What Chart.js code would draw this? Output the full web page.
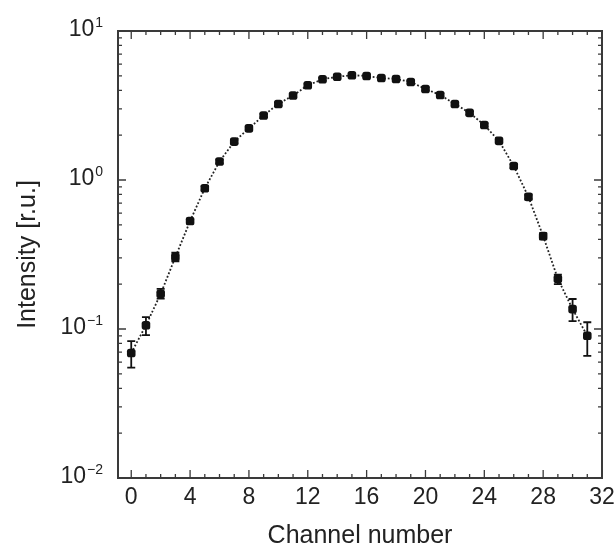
<!DOCTYPE html>
<html>
<head>
<meta charset="utf-8">
<script src="https://cdn.jsdelivr.net/npm/chart.js@4"></script>
<style>
  html, body { margin: 0; padding: 0; background: #fff; }
  #wrap { width: 615px; height: 551px; }
</style>
</head>
<body>
<div id="wrap"><canvas id="chart" width="615" height="551"></canvas></div>
<script>
// channel numbers and measured intensity (relative units)
const channels = [0, 1, 2, 3, 4, 5, 6, 7, 8, 9, 10, 11, 12, 13, 14, 15,
                  16, 17, 18, 19, 20, 21, 22, 23, 24, 25, 26, 27, 28, 29, 30, 31];
const intensity = [0.069, 0.106, 0.172, 0.304, 0.53, 0.88, 1.33, 1.81, 2.22, 2.71, 3.24, 3.69,
                   4.32, 4.74, 4.93, 5.05, 4.99, 4.84, 4.76, 4.55, 4.08, 3.72, 3.24, 2.82,
                   2.34, 1.83, 1.24, 0.77, 0.42, 0.217, 0.136, 0.090];
// error bar ends
const errLow = [0.055, 0.091, 0.160, 0.285, 0.51, 0.85, 1.29, 1.76, 2.16, 2.64, 3.16, 3.60,
                4.22, 4.63, 4.82, 4.94, 4.88, 4.73, 4.65, 4.44, 3.98, 3.63, 3.16, 2.75,
                2.28, 1.78, 1.20, 0.74, 0.40, 0.200, 0.113, 0.066];
const errHigh = [0.083, 0.120, 0.186, 0.325, 0.55, 0.91, 1.37, 1.86, 2.28, 2.78, 3.32, 3.78,
                 4.42, 4.85, 5.04, 5.16, 5.10, 4.95, 4.87, 4.66, 4.18, 3.81, 3.32, 2.89,
                 2.40, 1.88, 1.28, 0.80, 0.44, 0.232, 0.159, 0.111];
const xTicks = [0, 4, 8, 12, 16, 20, 24, 28, 32];
const yDecades = [-2, -1, 0, 1];

const axisColor = '#3a3a3a';
const textColor = '#222';
const fontFamily = 'Arial, "Liberation Sans", sans-serif';

// error bars, drawn with the chart scales
const errorBars = {
    id: 'errorBars',
    afterDatasetsDraw(chart) {
        const { ctx, scales: { x, y } } = chart;
        ctx.save();
        ctx.strokeStyle = '#111';
        ctx.lineWidth = 1.8;
        channels.forEach((c, i) => {
            const px = x.getPixelForValue(c);
            const yl = y.getPixelForValue(errLow[i]);
            const yh = y.getPixelForValue(errHigh[i]);
            ctx.beginPath();
            ctx.moveTo(px, yl); ctx.lineTo(px, yh);
            ctx.moveTo(px - 4, yl); ctx.lineTo(px + 4, yl);
            ctx.moveTo(px - 4, yh); ctx.lineTo(px + 4, yh);
            ctx.stroke();
        });
        ctx.restore();
    }
};

// box, inward ticks and tick labels
const frame = {
    id: 'frame',
    afterDraw(chart) {
        const { ctx, chartArea: a, scales: { x, y } } = chart;
        ctx.save();
        ctx.strokeStyle = axisColor;
        ctx.lineWidth = 2;
        ctx.strokeRect(a.left, a.top, a.right - a.left, a.bottom - a.top);

        ctx.lineWidth = 1.3;
        ctx.beginPath();
        for (let v = 0; v <= 32; v++) {
            const px = x.getPixelForValue(v);
            const len = v % 4 === 0 ? 8 : 4;
            ctx.moveTo(px, a.bottom); ctx.lineTo(px, a.bottom - len);
            ctx.moveTo(px, a.top); ctx.lineTo(px, a.top + len);
        }
        yDecades.forEach(d => {
            for (let m = 1; m <= 9; m++) {
                const v = m * Math.pow(10, d);
                if (v > 10.0001) continue;
                const py = y.getPixelForValue(v);
                const len = m === 1 ? 8 : 4;
                ctx.moveTo(a.left, py); ctx.lineTo(a.left + len, py);
                ctx.moveTo(a.right, py); ctx.lineTo(a.right - len, py);
            }
        });
        ctx.stroke();

        ctx.fillStyle = textColor;
        ctx.textBaseline = 'middle';

        // x labels
        ctx.font = '23px ' + fontFamily;
        ctx.textAlign = 'center';
        xTicks.forEach(v => {
            ctx.fillText(String(v), x.getPixelForValue(v), a.bottom + 20);
        });

        // y labels 10^n
        yDecades.forEach(d => {
            const py = y.getPixelForValue(Math.pow(10, d));
            const exp = String(d).replace('-', '\u2212');
            ctx.font = '14px ' + fontFamily;
            const ew = ctx.measureText(exp).width;
            ctx.textAlign = 'right';
            ctx.fillText(exp, a.left - 15, py - 8);
            ctx.font = '23px ' + fontFamily;
            ctx.fillText('10', a.left - 16 - ew, py - 1);
        });
        ctx.restore();
    }
};

new Chart(document.getElementById('chart'), {
    type: 'line',
    data: {
        datasets: [{
            data: channels.map((c, i) => ({ x: c, y: intensity[i] })),
            borderColor: '#222',
            borderWidth: 1.8,
            borderDash: [1.8, 2],
            pointStyle: 'rectRounded',
            pointRadius: 5,
            pointBackgroundColor: '#111',
            pointBorderColor: '#111',
            pointBorderWidth: 0,
            tension: 0,
            fill: false
        }]
    },
    options: {
        responsive: false,
        animation: false,
        layout: { padding: { top: 31, right: 13, left: 0, bottom: 0 } },
        plugins: { legend: { display: false }, tooltip: { enabled: false } },
        scales: {
            x: {
                type: 'linear',
                min: -0.9,
                max: 32,
                afterFit: s => { s.height = 73; },
                grid: { display: false, drawTicks: false },
                border: { display: false },
                ticks: { display: false },
                title: {
                    display: true,
                    text: 'Channel number',
                    color: textColor,
                    font: { size: 25, family: fontFamily },
                    padding: { top: 0, bottom: 0 }
                }
            },
            y: {
                type: 'logarithmic',
                min: 0.01,
                max: 10,
                afterFit: s => { s.width = 118; },
                grid: { display: false, drawTicks: false },
                border: { display: false },
                ticks: { display: false },
                title: {
                    display: true,
                    text: 'Intensity [r.u.]',
                    color: textColor,
                    font: { size: 25, family: fontFamily },
                    padding: { top: 13, bottom: 0 }
                }
            }
        }
    },
    plugins: [errorBars, frame]
});
</script>
</body>
</html>
